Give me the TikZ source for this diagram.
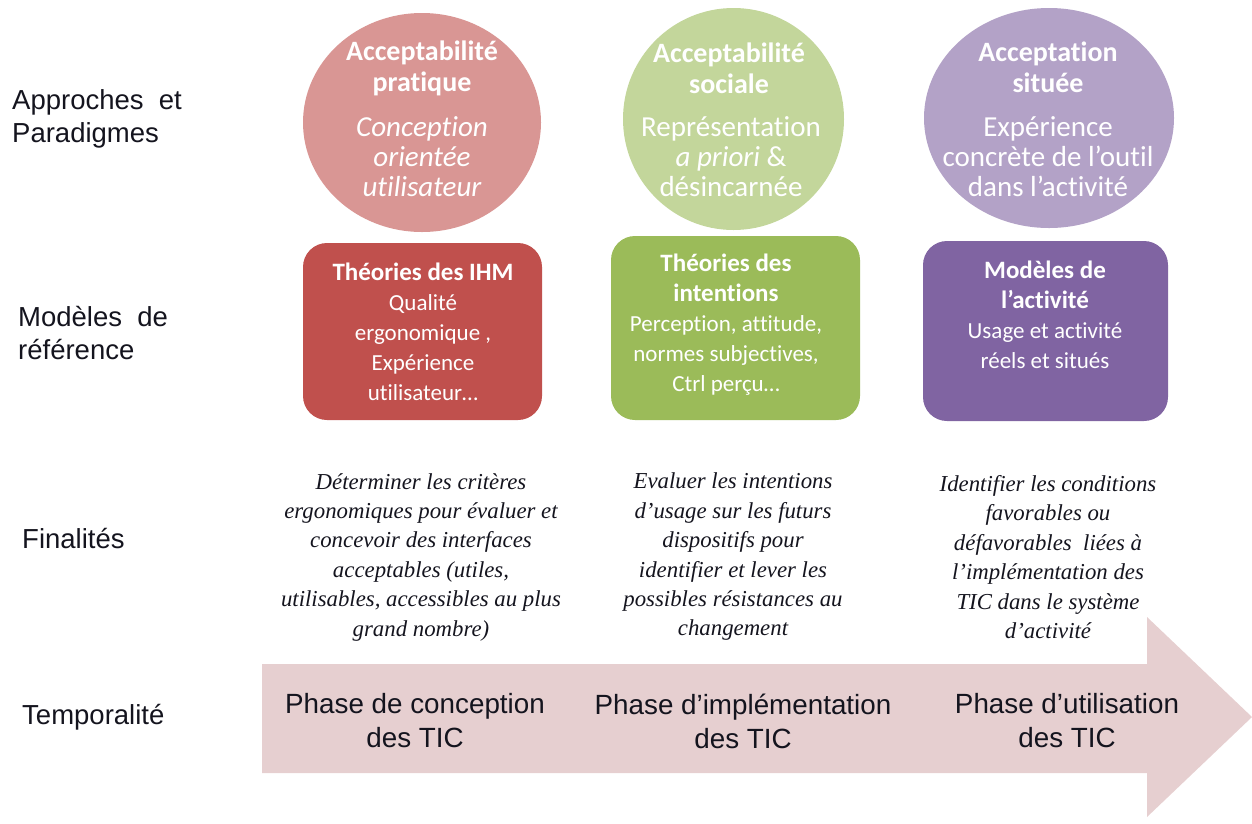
\documentclass[tikz,border=0pt]{standalone}
\usepackage{fontspec}
\setmainfont{Liberation Sans}
\newfontfamily\calfont{Carlito}[Ligatures={NoCommon}]
\newfontfamily\serfont{Liberation Serif}
\usetikzlibrary{shapes.geometric}
\definecolor{circR}{RGB}{217,150,148}
\definecolor{circG}{RGB}{195,214,155}
\definecolor{circP}{RGB}{179,162,199}
\definecolor{boxR}{RGB}{192,80,77}
\definecolor{boxG}{RGB}{155,187,89}
\definecolor{boxP}{RGB}{128,100,162}
\definecolor{arrowC}{RGB}{230,207,208}
\definecolor{lbl}{RGB}{20,20,30}
\tikzset{
  circ/.style={ellipse, inner sep=0, draw=none},
  rbox/.style={rectangle, rounded corners=24pt, inner sep=0, draw=none},
  ctitle/.style={align=center, inner sep=0, text=white, font={\calfont\bfseries\fontsize{28}{31}\selectfont}},
  csub/.style={align=center, inner sep=0, text=white, font={\calfont\fontsize{29}{30}\selectfont}},
  btext/.style={align=center, inner sep=0, text=white, font={\calfont\fontsize{23}{30}\selectfont}},
  btitle/.style={font=\bfseries\fontsize{25}{30}\selectfont},
  fin/.style={align=center, inner sep=0, text=lbl, font={\serfont\itshape\fontsize{22.8}{29.4}\selectfont}},
  phase/.style={align=center, inner sep=0, text=lbl, font={\fontsize{27.8}{34}\selectfont}},
  side/.style={align=left, anchor=west, inner sep=0, text=lbl, font={\fontsize{27.5}{32.5}\selectfont}}
}
\newcommand{\bt}[1]{{\bfseries\fontsize{25}{30}\selectfont #1}}
\begin{document}
\begin{tikzpicture}[x=1pt, y=-1pt]
\useasboundingbox (0,0) rectangle (1252,823);
% arrow
\fill[arrowC] (262,664) -- (1147,664) -- (1147,617) -- (1252,717) -- (1147,817) -- (1147,773) -- (262,773) -- cycle;
% side labels
\node[side] (l1) at (12,119) {Approches\ \ et\\Paradigmes};
\node[side] (l2) at (18,333) {Modèles\ \ de\\référence};
\node[side] (l3) at (22,538) {Finalités};
\node[side] (l4) at (22,717) {Temporalité};
% circles
\node[circ, fill=circR, minimum width=238pt, minimum height=219pt] (c1) at (422,122.5) {};
\node[circ, fill=circG, minimum width=221pt, minimum height=222pt] (c2) at (733.5,119) {};
\node[circ, fill=circP, minimum width=250pt, minimum height=220pt] (c3) at (1049,118) {};
\node[ctitle] (c1t) at (422,68) {Acceptabilité\\pratique};
\node[csub, font={\calfont\itshape\fontsize{29}{30}\selectfont}] (c1s) at (422,157) {Conception\\orientée\\utilisateur};
\node[ctitle] (c2t) at (729,68) {Acceptabilité\\sociale};
\node[csub] (c2s) at (731,157) {Représentation\\\textit{a priori} \&\\désincarnée};
\node[ctitle] (c3t) at (1048,67) {Acceptation\\située};
\node[csub] (c3s) at (1048,157) {Expérience\\concrète de l’outil\\dans l’activité};
% boxes
\node[rbox, fill=boxR, minimum width=239pt, minimum height=177pt] (b1) at (422.5,331.5) {};
\node[rbox, fill=boxG, minimum width=249pt, minimum height=184pt] (b2) at (735.5,328) {};
\node[rbox, fill=boxP, minimum width=245pt, minimum height=180pt] (b3) at (1045.5,331) {};
\node[btext] (b1t) at (423,332) {\bt{Théories des IHM}\\Qualité\\ergonomique ,\\Expérience\\utilisateur…};
\node[btext] (b2t) at (726,325) {\bt{Théories des}\\\bt{intentions}\\Perception, attitude,\\normes subjectives,\\Ctrl perçu…};
\node[btext] (b3t) at (1045,315) {\bt{Modèles de}\\\bt{l’activité}\\Usage et activité\\réels et situés};
% finalites
\node[fin] (f1) at (421,557) {Déterminer les critères\\ergonomiques pour évaluer et\\concevoir des interfaces\\acceptables (utiles,\\utilisables, accessibles au plus\\grand nombre)};
\node[fin] (f2) at (733,557) {Evaluer les intentions\\d’usage sur les futurs\\dispositifs pour\\identifier et lever les\\possibles résistances au\\changement};
\node[fin] (f3) at (1048,557) {Identifier les conditions\\favorables ou\\défavorables\ \ liées à\\l’implémentation des\\TIC dans le système\\d’activité};
% phases
\node[phase] (p1) at (415,721) {Phase de conception\\des TIC};
\node[phase] (p2) at (743,721) {Phase d’implémentation\\des TIC};
\node[phase] (p3) at (1067,721) {Phase d’utilisation\\des TIC};
\end{tikzpicture}
\end{document}
